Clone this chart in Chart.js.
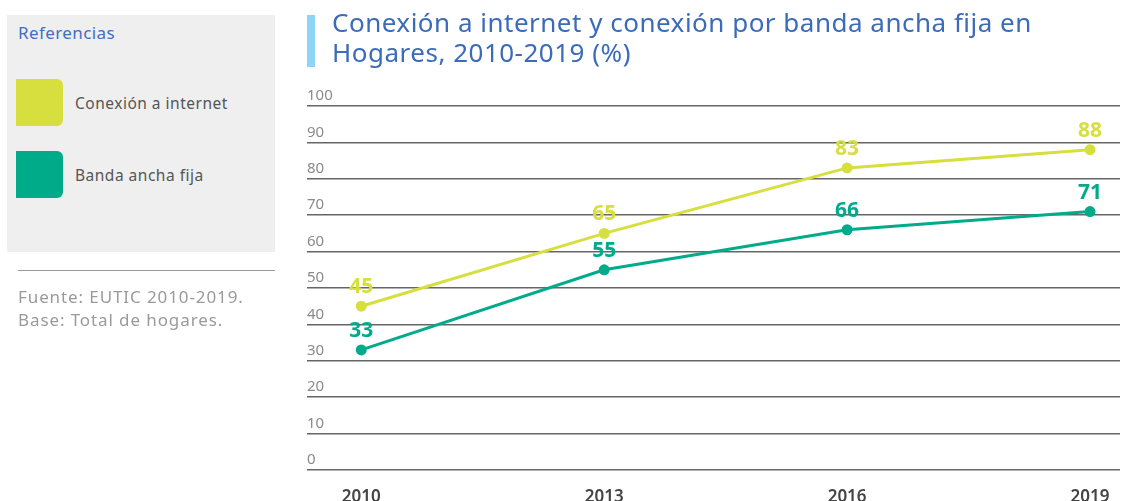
<!DOCTYPE html>
<html>
<head>
<meta charset="utf-8">
<script src="https://cdn.jsdelivr.net/npm/chart.js@4.4.1/dist/chart.umd.min.js"></script>
<style>
  body { margin: 0; background: #fff; font-family: "Noto Sans", sans-serif; }
  #wrap { position: relative; width: 1134px; height: 501px; overflow: hidden; }
  #chart { position: absolute; left: 0; top: 0; }
  .panel { position: absolute; left: 7px; top: 15px; width: 268px; height: 237px; background: #efefef; }
  .panel .ref { position: absolute; left: 11px; top: 6px; font-size: 17px; letter-spacing: 0.4px; color: #3f6fc0; }
  .sw { position: absolute; left: 9px; width: 47px; height: 47px; border-radius: 0 6px 6px 0; }
  .lbl { position: absolute; left: 68px; font-size: 15.5px; letter-spacing: 0.5px; color: #555; }
  .sep { position: absolute; left: 18px; top: 270px; width: 257px; height: 1px; background: #999; }
  .note { position: absolute; left: 18px; top: 285px; font-size: 17px; letter-spacing: 0.9px; line-height: 23px; color: #9a9a9a; }
  .bar { position: absolute; left: 307px; top: 15px; width: 8px; height: 52px; background: #8ed4f6; }
  .title { position: absolute; left: 332px; top: 7px; font-size: 26px; letter-spacing: 0.5px; line-height: 30px; color: #3b6bb9; }
</style>
</head>
<body>
<div id="wrap">
  <canvas id="chart" width="1134" height="501"></canvas>
  <div class="panel">
    <div class="ref">Referencias</div>
    <div class="sw" style="top:64px;background:#d6df3e"></div>
    <div class="lbl" style="top:77px">Conexión a internet</div>
    <div class="sw" style="top:136px;background:#00ab89"></div>
    <div class="lbl" style="top:149px">Banda ancha fija</div>
  </div>
  <div class="sep"></div>
  <div class="note">Fuente: EUTIC 2010-2019.<br>Base: Total de hogares.</div>
  <div class="bar"></div>
  <div class="title">Conexión a internet y conexión por banda ancha fija en<br>Hogares, 2010-2019 (%)</div>
</div>
<script>
// Años y valores (%)
const years = [2010, 2013, 2016, 2019];
const internet = [45, 65, 83, 88];
const bandaAncha = [33, 55, 66, 71];
const yTicks = [0, 10, 20, 30, 40, 50, 60, 70, 80, 90, 100];

// Etiquetas de valor encima de cada punto
const valueLabels = {
    id: 'valueLabels',
    afterDatasetsDraw(chart) {
        const ctx = chart.ctx;
        ctx.save();
        ctx.font = 'bold 21px "Noto Sans", sans-serif';
        ctx.textAlign = 'center';
        ctx.textBaseline = 'middle';
        chart.data.datasets.forEach((ds, i) => {
            ctx.fillStyle = ds.borderColor;
            chart.getDatasetMeta(i).data.forEach((pt, j) => {
                ctx.fillText(ds.data[j].y, pt.x, pt.y - 19);
            });
        });
        ctx.restore();
    }
};

const config = {
    type: 'line',
    data: {
        datasets: [{
            label: 'Conexión a internet',
            data: years.map((y, i) => ({ x: y, y: internet[i] })),
            borderColor: '#d6df3e',
            backgroundColor: '#d6df3e',
            borderWidth: 3,
            pointRadius: 4,
            fill: false
        }, {
            label: 'Banda ancha fija',
            data: years.map((y, i) => ({ x: y, y: bandaAncha[i] })),
            borderColor: '#00ab89',
            backgroundColor: '#00ab89',
            borderWidth: 3,
            pointRadius: 4,
            fill: false
        }]
    },
    options: {
        responsive: false,
        animation: false,
        layout: { padding: { left: 307, top: 106, right: 14, bottom: 0 } },
        plugins: { legend: { display: false }, tooltip: { enabled: false } },
        scales: {
            x: {
                type: 'linear',
                min: 2009.33,
                max: 2019.37,
                afterBuildTicks: s => { s.ticks = years.map(v => ({ value: v })); },
                afterFit: s => { s.height = 31; },
                grid: { display: false },
                border: { display: false },
                ticks: {
                    padding: 9,
                    color: '#444',
                    font: { family: '"Noto Sans", sans-serif', size: 17, weight: '600' },
                    callback: v => String(v)
                }
            },
            y: {
                min: 0,
                max: 100,
                afterBuildTicks: s => { s.ticks = yTicks.map(v => ({ value: v })); },
                border: { display: false },
                grid: { color: '#666', lineWidth: 1.5, drawTicks: false },
                ticks: {
                    mirror: true,
                    padding: 0,
                    labelOffset: -10,
                    color: '#8a8a8a',
                    font: { family: '"Noto Sans", sans-serif', size: 15 }
                }
            }
        }
    },
    plugins: [valueLabels]
};

new Chart(document.getElementById('chart'), config);
</script>
</body>
</html>
